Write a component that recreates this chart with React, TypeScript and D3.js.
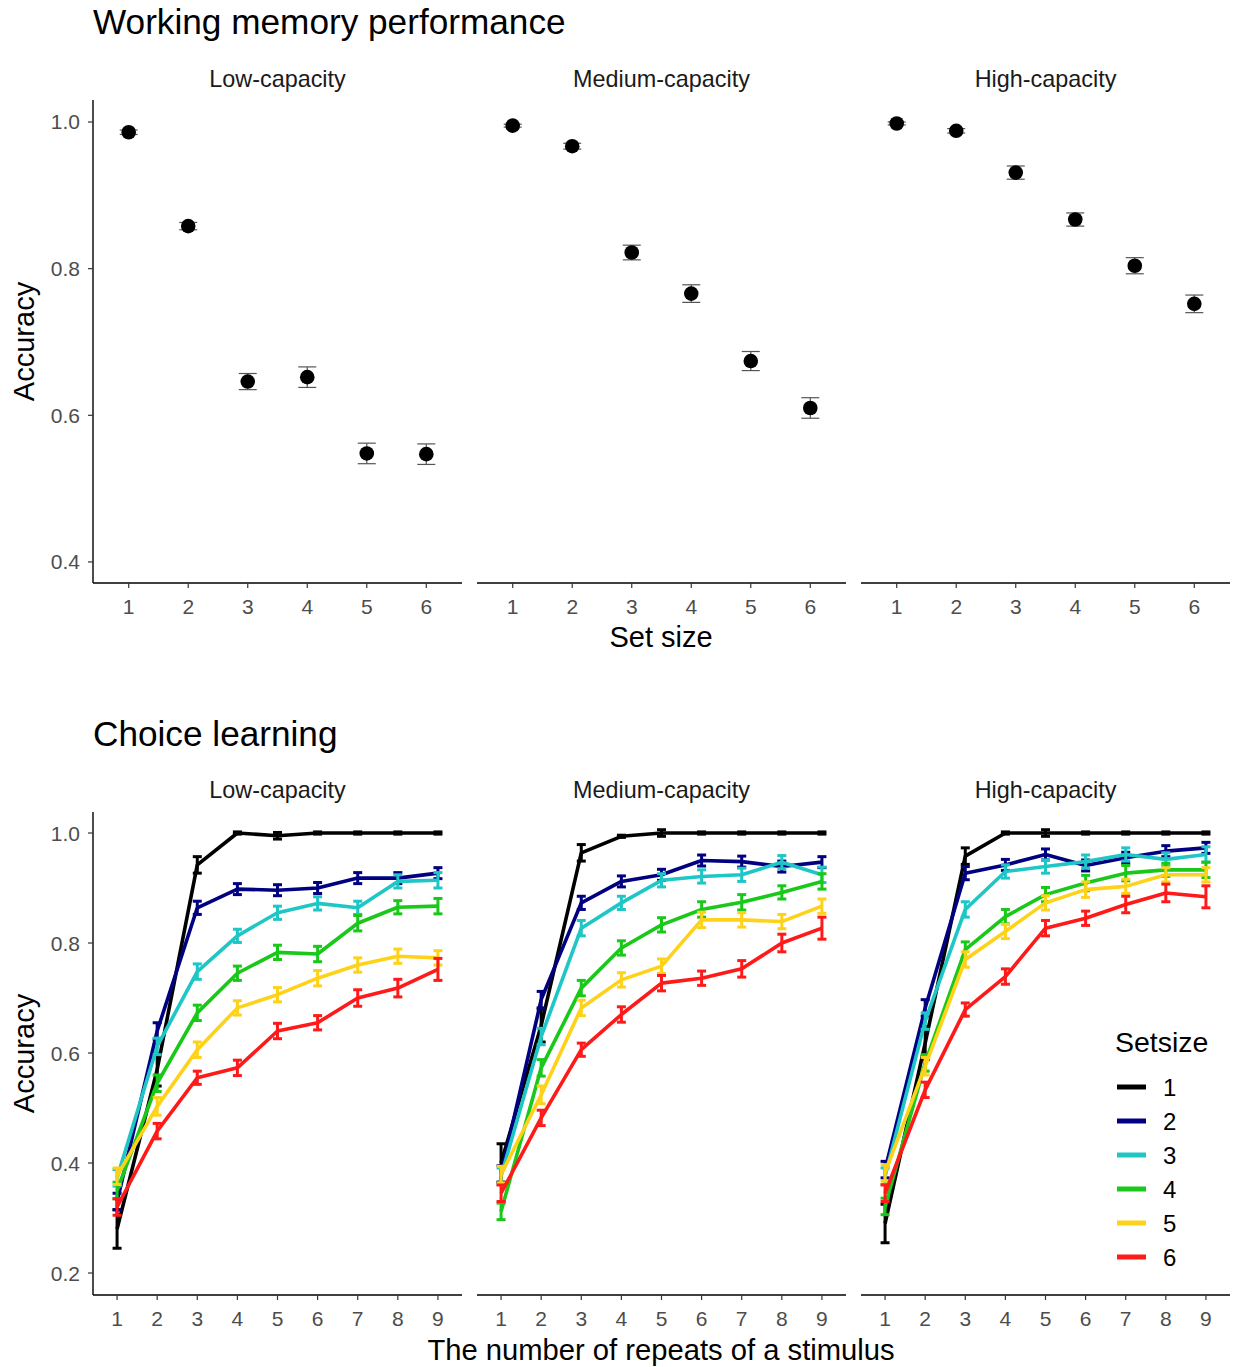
import React from "react";
import * as d3 from "d3";

// ---------- data ----------
const capacities = ["Low-capacity", "Medium-capacity", "High-capacity"];
const setSizes = [1, 2, 3, 4, 5, 6];
const repeats = [1, 2, 3, 4, 5, 6, 7, 8, 9];

// Working memory accuracy (mean, SE) per set size
const wmLow = [0.986, 0.858, 0.646, 0.652, 0.548, 0.547];
const wmLowSE = [0.003, 0.005, 0.011, 0.014, 0.014, 0.014];
const wmMed = [0.995, 0.967, 0.822, 0.766, 0.674, 0.61];
const wmMedSE = [0.002, 0.004, 0.01, 0.012, 0.013, 0.014];
const wmHigh = [0.998, 0.988, 0.931, 0.867, 0.804, 0.752];
const wmHighSE = [0.002, 0.003, 0.009, 0.009, 0.011, 0.012];

// Choice learning accuracy per repeat, one array per set size
const lowS1 = [0.28, 0.57, 0.942, 1.0, 0.995, 1.0, 1.0, 1.0, 1.0];
const lowS2 = [0.33, 0.64, 0.864, 0.898, 0.896, 0.9, 0.918, 0.918, 0.927];
const lowS3 = [0.373, 0.612, 0.748, 0.813, 0.855, 0.872, 0.864, 0.912, 0.914];
const lowS4 = [0.35, 0.545, 0.673, 0.745, 0.783, 0.78, 0.836, 0.865, 0.867];
const lowS5 = [0.376, 0.503, 0.606, 0.682, 0.706, 0.736, 0.76, 0.776, 0.773];
const lowS6 = [0.32, 0.458, 0.555, 0.573, 0.64, 0.655, 0.7, 0.718, 0.752];

const medS1 = [0.4, 0.65, 0.964, 0.994, 1.0, 1.0, 1.0, 1.0, 1.0];
const medS2 = [0.38, 0.697, 0.873, 0.912, 0.924, 0.95, 0.948, 0.939, 0.947];
const medS3 = [0.376, 0.63, 0.827, 0.873, 0.914, 0.921, 0.924, 0.947, 0.924];
const medS4 = [0.312, 0.573, 0.718, 0.791, 0.833, 0.861, 0.874, 0.892, 0.912];
const medS5 = [0.379, 0.524, 0.682, 0.733, 0.758, 0.842, 0.842, 0.839, 0.867];
const medS6 = [0.345, 0.482, 0.606, 0.67, 0.727, 0.736, 0.753, 0.8, 0.827];

const highS1 = [0.29, 0.618, 0.958, 1.0, 1.0, 1.0, 1.0, 1.0, 1.0];
const highS2 = [0.388, 0.682, 0.927, 0.942, 0.961, 0.941, 0.955, 0.967, 0.973];
const highS3 = [0.376, 0.658, 0.861, 0.93, 0.939, 0.948, 0.961, 0.952, 0.961];
const highS4 = [0.321, 0.582, 0.788, 0.848, 0.888, 0.909, 0.927, 0.933, 0.933];
const highS5 = [0.382, 0.576, 0.77, 0.821, 0.873, 0.897, 0.903, 0.924, 0.924];
const highS6 = [0.345, 0.533, 0.679, 0.739, 0.827, 0.845, 0.87, 0.891, 0.884];

// Standard errors per set size (across repeats)
const seS1 = [0.035, 0.03, 0.015, 0.002, 0.006, 0.002, 0.002, 0.002, 0.002];
const seS2 = [0.015, 0.015, 0.012, 0.01, 0.01, 0.01, 0.01, 0.01, 0.01];
const seS3 = [0.015, 0.015, 0.014, 0.012, 0.012, 0.012, 0.012, 0.012, 0.014];
const seS4 = [0.015, 0.015, 0.014, 0.013, 0.013, 0.014, 0.014, 0.012, 0.014];
const seS5 = [0.015, 0.016, 0.014, 0.013, 0.013, 0.014, 0.013, 0.013, 0.013];
const seS6 = [0.015, 0.014, 0.012, 0.014, 0.014, 0.013, 0.015, 0.016, 0.02];

const topTicks = [0.4, 0.6, 0.8, 1.0];
const bottomTicks = [0.2, 0.4, 0.6, 0.8, 1.0];
const seriesColors = ["#000000", "#000080", "#1fc6c6", "#19c819", "#ffd21a", "#ff1a1a"];

// ---------- layout ----------
const W = 1235;
const H = 1367;
const FONT = "'Liberation Sans', Arial, Helvetica, sans-serif";
const panelX: [number, number][] = [
  [93, 462],
  [477, 846],
  [861, 1230],
];

const wmMeans = [wmLow, wmMed, wmHigh];
const wmSEs = [wmLowSE, wmMedSE, wmHighSE];
const clMeans = [
  [lowS1, lowS2, lowS3, lowS4, lowS5, lowS6],
  [medS1, medS2, medS3, medS4, medS5, medS6],
  [highS1, highS2, highS3, highS4, highS5, highS6],
];
const clSEs = [seS1, seS2, seS3, seS4, seS5, seS6];

const yTop = d3.scaleLinear().domain([0.3713, 1.03]).range([583, 100]);
const yBot = d3.scaleLinear().domain([0.16, 1.0382]).range([1295, 812]);

function TopPanel({ i }: { i: number }) {
  const [x0, x1] = panelX[i];
  const x = d3.scalePoint<number>().domain(setSizes).range([x0, x1]).padding(0.6);
  const means = wmMeans[i];
  const ses = wmSEs[i];
  return (
    <g>
      <text x={(x0 + x1) / 2} y={87} textAnchor="middle" fontSize={23.4} fill="#1a1a1a" fontFamily={FONT}>
        {capacities[i]}
      </text>
      <line x1={x0} x2={x1} y1={583} y2={583} stroke="#000" strokeWidth={1.4} />
      {setSizes.map((s) => (
        <g key={s}>
          <line x1={x(s)} x2={x(s)} y1={583} y2={588} stroke="#333" strokeWidth={1.2} />
          <text x={x(s)} y={614} textAnchor="middle" fontSize={21} fill="#4d4d4d" fontFamily={FONT}>
            {s}
          </text>
        </g>
      ))}
      {setSizes.map((s, k) => {
        const cx = x(s)!;
        const lo = yTop(means[k] - ses[k]);
        const hi = yTop(means[k] + ses[k]);
        return (
          <g key={"p" + s}>
            <line x1={cx} x2={cx} y1={lo} y2={hi} stroke="#555" strokeWidth={1.2} />
            <line x1={cx - 9} x2={cx + 9} y1={lo} y2={lo} stroke="#555" strokeWidth={1.2} />
            <line x1={cx - 9} x2={cx + 9} y1={hi} y2={hi} stroke="#555" strokeWidth={1.2} />
            <circle cx={cx} cy={yTop(means[k])} r={7.3} fill="#000" />
          </g>
        );
      })}
    </g>
  );
}

function BottomPanel({ i }: { i: number }) {
  const [x0, x1] = panelX[i];
  const x = d3.scalePoint<number>().domain(repeats).range([x0, x1]).padding(0.6);
  const line = d3
    .line<number>()
    .x((_, k) => x(repeats[k])!)
    .y((v) => yBot(v));
  return (
    <g>
      <text x={(x0 + x1) / 2} y={798} textAnchor="middle" fontSize={23.4} fill="#1a1a1a" fontFamily={FONT}>
        {capacities[i]}
      </text>
      <line x1={x0} x2={x1} y1={1295} y2={1295} stroke="#000" strokeWidth={1.4} />
      {repeats.map((r) => (
        <g key={r}>
          <line x1={x(r)} x2={x(r)} y1={1295} y2={1300} stroke="#333" strokeWidth={1.2} />
          <text x={x(r)} y={1326} textAnchor="middle" fontSize={21} fill="#4d4d4d" fontFamily={FONT}>
            {r}
          </text>
        </g>
      ))}
      {clMeans[i].map((vals, s) => {
        const col = seriesColors[s];
        const se = clSEs[s];
        return (
          <g key={"s" + s}>
            {vals.map((v, k) => {
              const cx = x(repeats[k])!;
              const lo = yBot(v - se[k]);
              const hi = yBot(v + se[k]);
              return (
                <g key={k}>
                  <line x1={cx} x2={cx} y1={lo} y2={hi} stroke={col} strokeWidth={3} />
                  <line x1={cx - 4.5} x2={cx + 4.5} y1={lo} y2={lo} stroke={col} strokeWidth={3} />
                  <line x1={cx - 4.5} x2={cx + 4.5} y1={hi} y2={hi} stroke={col} strokeWidth={3} />
                </g>
              );
            })}
            <path d={line(vals) || ""} fill="none" stroke={col} strokeWidth={3.6} strokeLinejoin="round" />
          </g>
        );
      })}
    </g>
  );
}

export default function App() {
  return (
    <svg
      width={W}
      height={H}
      viewBox={`0 0 ${W} ${H}`}
      style={{ position: "absolute", left: 0, top: 0, background: "#fff" }}
      fontFamily={FONT}
    >
      <rect x={0} y={0} width={W} height={H} fill="#fff" />
      {/* Top section */}
      <text x={93} y={34} fontSize={35.2} fill="#000" fontFamily={FONT}>
        Working memory performance
      </text>
      <line x1={93} x2={93} y1={100} y2={583} stroke="#000" strokeWidth={1.4} />
      {topTicks.map((t) => (
        <g key={t}>
          <line x1={88} x2={93} y1={yTop(t)} y2={yTop(t)} stroke="#333" strokeWidth={1.2} />
          <text x={80} y={yTop(t) + 7.5} textAnchor="end" fontSize={21} fill="#4d4d4d" fontFamily={FONT}>
            {t.toFixed(1)}
          </text>
        </g>
      ))}
      <text
        transform={`translate(34,${(100 + 583) / 2}) rotate(-90)`}
        textAnchor="middle"
        fontSize={29}
        fill="#000"
        fontFamily={FONT}
      >
        Accuracy
      </text>
      {[0, 1, 2].map((i) => (
        <TopPanel key={i} i={i} />
      ))}
      <text x={661} y={647} textAnchor="middle" fontSize={29} fill="#000" fontFamily={FONT}>
        Set size
      </text>

      {/* Bottom section */}
      <text x={93} y={746} fontSize={35.2} fill="#000" fontFamily={FONT}>
        Choice learning
      </text>
      <line x1={93} x2={93} y1={812} y2={1295} stroke="#000" strokeWidth={1.4} />
      {bottomTicks.map((t) => (
        <g key={t}>
          <line x1={88} x2={93} y1={yBot(t)} y2={yBot(t)} stroke="#333" strokeWidth={1.2} />
          <text x={80} y={yBot(t) + 7.5} textAnchor="end" fontSize={21} fill="#4d4d4d" fontFamily={FONT}>
            {t.toFixed(1)}
          </text>
        </g>
      ))}
      <text
        transform={`translate(34,${(812 + 1295) / 2}) rotate(-90)`}
        textAnchor="middle"
        fontSize={29}
        fill="#000"
        fontFamily={FONT}
      >
        Accuracy
      </text>
      {[0, 1, 2].map((i) => (
        <BottomPanel key={i} i={i} />
      ))}
      <text x={661} y={1360} textAnchor="middle" fontSize={29.2} fill="#000" fontFamily={FONT}>
        The number of repeats of a stimulus
      </text>

      {/* Legend */}
      <text x={1115} y={1052} fontSize={28.5} fill="#000" fontFamily={FONT}>
        Setsize
      </text>
      {setSizes.map((s, k) => {
        const ly = 1087 + k * 34;
        return (
          <g key={"l" + s}>
            <line x1={1117} x2={1146} y1={ly} y2={ly} stroke={seriesColors[k]} strokeWidth={5} />
            <text x={1163} y={ly + 8.5} fontSize={24} fill="#000" fontFamily={FONT}>
              {s}
            </text>
          </g>
        );
      })}
    </svg>
  );
}
